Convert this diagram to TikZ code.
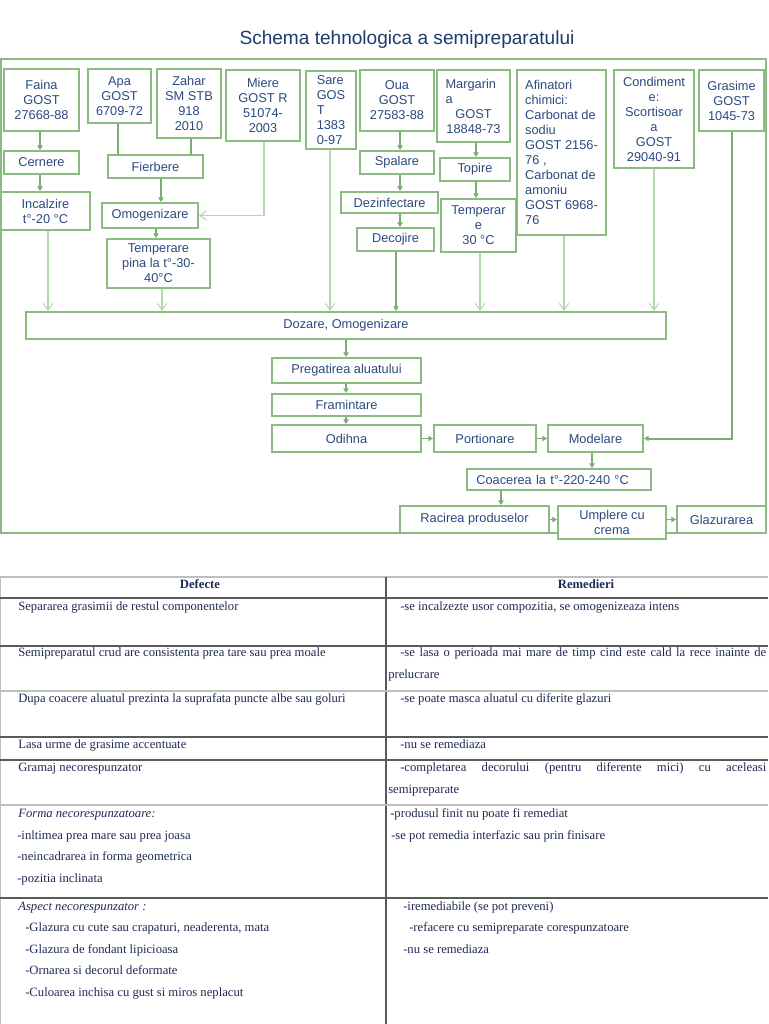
\documentclass[tikz,border=0pt]{standalone}
\usepackage{fontspec}
\setmainfont{Liberation Sans}
\newfontfamily\tabfont{Liberation Serif}
\usetikzlibrary{arrows.meta}
\definecolor{boxg}{RGB}{138,187,128}
\definecolor{lineg}{RGB}{122,172,115}
\definecolor{lightg}{RGB}{180,216,174}
\definecolor{txtb}{RGB}{43,74,126}
\definecolor{titleb}{RGB}{31,59,112}
\definecolor{tabt}{RGB}{30,42,85}
\definecolor{rulel}{RGB}{190,190,190}
\definecolor{ruled}{RGB}{90,90,90}
\newcommand{\bx}[7][]{\node[box,#1, minimum width={(#5-#3)*0.75pt}, minimum height={(#6-#4)*0.75pt}] (#2) at ({(#3+#5)/2},{(#4+#6)/2}) {#7};}
\begin{document}
\begin{tikzpicture}[x=0.75pt,y=-0.75pt,
  box/.style={draw=boxg, line width=1.5pt, fill=white, inner sep=0pt, align=center, text=txtb,
    font=\fontsize{9.6}{11.25}\selectfont},
  dk/.style={draw=lineg, line width=1.1pt, -{Triangle[width=4pt,length=3.5pt]}},
  dkl/.style={draw=lineg, line width=1.1pt},
  lt/.style={draw=lightg, line width=0.8pt, -{Straight Barb[width=7pt,length=5pt]}},
  tab/.style={anchor=base west, inner sep=0pt, text=tabt, font=\tabfont\fontsize{9.5}{11}\selectfont},
  tabh/.style={anchor=base, inner sep=0pt, text=tabt, font=\tabfont\bfseries\fontsize{9.5}{11}\selectfont}]
\useasboundingbox[fill=white] (0,0) rectangle (768,1024);

% title
\node[text=titleb, font=\fontsize{14.3}{17}\selectfont] (title) at (407,40) {Schema tehnologica a semipreparatului};

% frame
\draw[draw=boxg, line width=1.5pt] (1,59) rectangle (766,533);

% boxes
\bx{faina}{4}{69}{79}{131}{Faina\\GOST\\27668-88}
\bx{apa}{88}{69}{151}{123}{Apa\\GOST\\6709-72}
\bx{zahar}{157}{69}{221}{138}{Zahar\\SM STB\\918\\2010}
\bx{miere}{226}{70}{300}{141}{Miere\\GOST R\\51074-\\2003}
\bx[align=left]{sare}{306}{71}{356}{149}{Sare\\GOS\\T\\1383\\0-97}
\bx{oua}{360}{70}{434}{131}{Oua\\GOST\\27583-88}
\bx[align=left,text width=42pt]{margarina}{437}{70}{510}{142}{Margarin\\a\\\makebox[42pt][c]{GOST}\\\makebox[42pt][c]{18848-73}}
\bx[align=left]{afin}{517}{70}{606}{235}{Afinatori\\chimici:\\Carbonat de\\sodiu\\GOST 2156-\\76 ,\\Carbonat de\\amoniu\\GOST 6968-\\76}
\bx{cond}{614}{70}{694}{168}{Condiment\\e:\\Scortisoar\\a\\GOST\\29040-91}
\bx{grasime}{699}{70}{764}{131}{Grasime\\GOST\\1045-73}
\bx{cernere}{4}{151}{79}{174}{Cernere}
\bx{fierbere}{108}{155}{203}{178}{Fierbere}
\bx{spalare}{360}{151}{434}{174}{Spalare}
\bx{topire}{440}{158}{510}{181}{Topire}
\bx{incalzire}{1}{192}{90}{230}{Incalzire\\t°-20 °C}
\bx{omog}{102}{203}{198}{228}{Omogenizare}
\bx{dezinf}{341}{192}{438}{213}{Dezinfectare}
\bx{temp}{441}{199}{516}{252}{Temperar\\e\\30 °C}
\bx{decojire}{357}{228}{434}{251}{Decojire}
\bx{temppina}{107}{239}{210}{288}{Temperare\\pina la t°-30-\\40°C}
\bx{dozare}{26}{312}{666}{339}{Dozare, Omogenizare}
\bx{pregatire}{272}{358}{421}{383}{Pregatirea aluatului}
\bx{framintare}{272}{394}{421}{416}{Framintare}
\bx{odihna}{272}{425}{421}{452}{Odihna}
\bx{portionare}{434}{425}{536}{452}{Portionare}
\bx{modelare}{548}{425}{643}{452}{Modelare}
\bx[align=left,text width=124pt]{coacerea}{467}{469}{651}{490}{Coacerea la t°-220-240 °C}
\bx{racirea}{400}{506}{549}{533}{Racirea produselor}
\bx{umplere}{558}{506}{666}{539}{Umplere cu\\crema}
\bx{glaz}{677}{506}{766}{533}{Glazurarea}

% column coordinates
\coordinate (c1) at (40,0);
\coordinate (c2) at (48,0);
\coordinate (c3) at (118,0);
\coordinate (c4) at (191,0);
\coordinate (c5) at (161,0);
\coordinate (c6) at (156,0);
\coordinate (c7) at (162,0);
\coordinate (c8) at (264,0);
\coordinate (c9) at (330,0);
\coordinate (c10) at (400,0);
\coordinate (c11) at (396,0);
\coordinate (c12) at (476,0);
\coordinate (c13) at (480,0);
\coordinate (c14) at (564,0);
\coordinate (c15) at (654,0);
\coordinate (c16) at (732,0);
\coordinate (c17) at (346,0);
\coordinate (c18) at (592,0);
\coordinate (c19) at (501,0);

% connectors
\draw[dk] (faina.south -| c1) -- (cernere.north -| c1);
\draw[dk] (cernere.south -| c1) -- (incalzire.north -| c1);
\draw[lt] (incalzire.south -| c2) -- (dozare.north -| c2);
\draw[dkl] (apa.south -| c3) -- (fierbere.north -| c3);
\draw[dkl] (zahar.south -| c4) -- (fierbere.north -| c4);
\draw[dk] (fierbere.south -| c5) -- (omog.north -| c5);
\draw[lt] (miere.south -| c8) |- (omog.east);
\draw[dk] (omog.south -| c6) -- (temppina.north -| c6);
\draw[lt] (temppina.south -| c7) -- (dozare.north -| c7);
\draw[lt] (sare.south -| c9) -- (dozare.north -| c9);
\draw[dk] (oua.south -| c10) -- (spalare.north -| c10);
\draw[dk] (spalare.south -| c10) -- (dezinf.north -| c10);
\draw[dk] (dezinf.south -| c10) -- (decojire.north -| c10);
\draw[dk, line width=1.5pt] (decojire.south -| c11) -- (dozare.north -| c11);
\draw[dk] (margarina.south -| c12) -- (topire.north -| c12);
\draw[dk] (topire.south -| c12) -- (temp.north -| c12);
\draw[lt] (temp.south -| c13) -- (dozare.north -| c13);
\draw[lt] (afin.south -| c14) -- (dozare.north -| c14);
\draw[lt] (cond.south -| c15) -- (dozare.north -| c15);
\draw[dk, line width=1.5pt] (grasime.south -| c16) |- (modelare.east);
\draw[dk] (dozare.south -| c17) -- (pregatire.north -| c17);
\draw[dk] (pregatire.south -| c17) -- (framintare.north -| c17);
\draw[dk] (framintare.south -| c17) -- (odihna.north -| c17);
\draw[dk] (odihna.east) -- (portionare.west);
\draw[dk] (portionare.east) -- (modelare.west);
\draw[dk] (modelare.south -| c18) -- (coacerea.north -| c18);
\draw[dk] (coacerea.south -| c19) -- (racirea.north -| c19);
\draw[dk] (racirea.east) -- (racirea.east -| umplere.west);
\draw[dk] (umplere.east |- glaz.west) -- (glaz.west);

% table rules
\draw[rulel, line width=0.8pt] (0,577) -- (768,577);
\draw[rulel, line width=0.8pt] (0.5,577) -- (0.5,1024);
\draw[ruled, line width=0.9pt] (386,577) -- (386,1024);
\draw[ruled, line width=0.9pt] (0,598) -- (768,598);
\draw[ruled, line width=0.9pt] (0,646) -- (768,646);
\draw[rulel, line width=0.9pt] (0,691) -- (768,691);
\draw[ruled, line width=0.9pt] (0,737) -- (768,737);
\draw[ruled, line width=0.9pt] (0,760) -- (768,760);
\draw[rulel, line width=0.9pt] (0,805) -- (768,805);
\draw[ruled, line width=0.9pt] (0,898) -- (768,898);

% table texts
\node[tabh] (h1) at (200,588) {Defecte};
\node[tabh] (h2) at (586,588) {Remedieri};
\node[tab] (l1) at (18,610) {Separarea grasimii de restul componentelor};
\node[tab] (l2) at (18,656) {Semipreparatul crud are consistenta prea tare sau prea moale};
\node[tab] (l3) at (18,702) {Dupa coacere aluatul prezinta la suprafata puncte albe sau goluri};
\node[tab] (l4) at (18,748) {Lasa urme de grasime accentuate};
\node[tab] (l5) at (18,771) {Gramaj necorespunzator};
\node[tab] (l6) at (18,817) {\itshape Forma necorespunzatoare:};
\node[tab] (l7) at (17,839) {-inltimea prea mare sau prea joasa};
\node[tab] (l8) at (17,860) {-neincadrarea in forma geometrica};
\node[tab] (l9) at (17,882) {-pozitia inclinata};
\node[tab] (l10) at (18,910) {\itshape Aspect necorespunzator :};
\node[tab] (l11) at (25,931) {-Glazura cu cute sau crapaturi, neaderenta, mata};
\node[tab] (l12) at (25,953) {-Glazura de fondant lipicioasa};
\node[tab] (l13) at (25,974) {-Ornarea si decorul deformate};
\node[tab] (l14) at (25,996) {-Culoarea inchisa cu gust si miros neplacut};

\node[tab] (r1) at (400,610) {-se incalzezte usor compozitia, se omogenizeaza intens};
\node[tab] (r2) at (400,656) {\makebox[274.5pt][s]{-se lasa o perioada mai mare de timp cind este cald la rece inainte de}};
\node[tab] (r2b) at (388,678) {prelucrare};
\node[tab] (r3) at (400,702) {-se poate masca aluatul cu diferite glazuri};
\node[tab] (r4) at (400,748) {-nu se remediaza};
\node[tab] (r5) at (400,771) {\makebox[274.5pt][s]{-completarea decorului (pentru diferente mici) cu aceleasi}};
\node[tab] (r5b) at (388,793) {semipreparate};
\node[tab] (r6) at (390,817) {-produsul finit nu poate fi remediat};
\node[tab] (r7) at (391,839) {-se pot remedia interfazic sau prin finisare};
\node[tab] (r8) at (403,910) {-iremediabile (se pot preveni)};
\node[tab] (r9) at (409,931) {-refacere cu semipreparate corespunzatoare};
\node[tab] (r10) at (403,953) {-nu se remediaza};
\end{tikzpicture}
\end{document}
